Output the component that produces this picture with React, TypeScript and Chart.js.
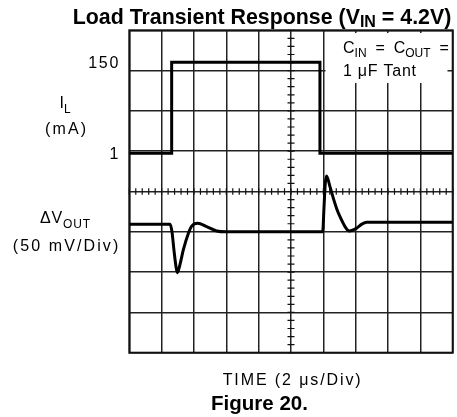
import { useEffect, useRef } from "react";
import { Chart, registerables } from "chart.js";

Chart.register(...registerables);

// ---- data ----
// time axis in microseconds (2 us / div, 10 divisions)
const currentTimeUs = [0, 2.62, 2.62, 11.79, 11.79, 20];
const currentMa = [1, 1, 150, 150, 1, 1];
const currentTickValues = [150, 1];

const voltageTimeUs = [
  0, 2.52, 2.64, 2.76, 2.89, 2.97, 3.14, 3.34, 3.65, 3.86, 4.23, 4.78, 5.4, 6.0,
  11.96, 12.04, 12.12, 12.2, 12.41, 12.62, 12.82, 13.03, 13.34, 13.6, 14.06, 14.38, 14.68, 20,
];
const voltageMv = [
  9.5, 9.5, 0, -22.5, -43.5, -50.75, -40, -22.5, -2, 7, 10.5, 6.5, 1, 0,
  0, 30, 60, 69.25, 56, 41.5, 29, 18.75, 6.5, 1, 4.5, 9.5, 11.75, 12,
];

const titleText = "Load Transient Response (V";
const figureText = "Figure 20.";
const xAxisText = "TIME (2 \u03bcs/Div)";

type Part = { t: string; sub?: boolean };
type RichOpts = {
  family: string;
  size: number;
  subSize: number;
  subDrop: number;
  weight?: string;
  align: "left" | "center" | "right";
  width?: number;
  fitSize?: boolean;
};

function richText(ctx: CanvasRenderingContext2D, parts: Part[], x: number, y: number, o: RichOpts) {
  const weight = o.weight || "normal";
  let size = o.size;
  let subSize = o.subSize;
  const fontOf = (p: Part) => `${weight} ${p.sub ? subSize : size}px ${o.family}`;
  (ctx as any).letterSpacing = "0px";
  const measure = () => {
    let natural = 0;
    let n = 0;
    const ws = parts.map((p) => {
      ctx.font = fontOf(p);
      const w = ctx.measureText(p.t).width;
      natural += w;
      n += [...p.t].length;
      return w;
    });
    return { natural, n, ws };
  };
  let m = measure();
  if (o.fitSize && o.width) {
    const k = o.width / m.natural;
    size *= k;
    subSize *= k;
    m = measure();
  }
  const { natural, n, ws } = m;
  const s = o.width && !o.fitSize ? Math.max(0, (o.width - natural) / Math.max(1, n - 1)) : 0;
  const visual = natural + s * (n - 1);
  let cx = o.align === "left" ? x : o.align === "center" ? x - visual / 2 : x - visual;
  ctx.textAlign = "left";
  ctx.textBaseline = "alphabetic";
  (ctx as any).letterSpacing = s + "px";
  parts.forEach((p, i) => {
    ctx.font = fontOf(p);
    ctx.fillText(p.t, cx, y + (p.sub ? o.subDrop : 0));
    cx += ws[i] + s * [...p.t].length;
  });
  (ctx as any).letterSpacing = "0px";
}

const TECH = "'Liberation Sans Narrow', 'Liberation Sans', Arial, sans-serif";
const BOLD = "'Liberation Sans', Arial, sans-serif";
const INK = "#111";

const overlay = {
  id: "overlay",
  beforeDatasetsDraw(chart: any) {
    const { ctx, chartArea: a, scales } = chart;
    const xs = scales.x;
    const ys = scales.y;
    const yi = scales.yI;
    ctx.save();
    ctx.strokeStyle = INK;
    ctx.lineWidth = 1.2;
    const cx = xs.getPixelForValue(10);
    const cy = ys.getPixelForValue(4);
    ctx.beginPath();
    for (let k = 0; k <= 40; k++) {
      const py = ys.getPixelForValue(k * 0.2);
      ctx.moveTo(cx - 3.5, py);
      ctx.lineTo(cx + 3.5, py);
    }
    for (let k = 0; k <= 50; k++) {
      const px = xs.getPixelForValue(k * 0.4);
      ctx.moveTo(px, cy - 3.2);
      ctx.lineTo(px, cy + 3.2);
    }
    ctx.stroke();

    // note box
    ctx.fillStyle = "#fff";
    ctx.fillRect(325.5, 33, 122, 50);

    // frame
    ctx.lineWidth = 2;
    ctx.strokeRect(a.left, a.top, a.right - a.left, a.bottom - a.top);

    ctx.fillStyle = "#000";
    const tech = { family: TECH, size: 16, subSize: 12, subDrop: 4 };

    // title
    richText(
      ctx,
      [{ t: titleText }, { t: "IN", sub: true }, { t: " = 4.2V)" }],
      262,
      23.5,
      { family: BOLD, size: 20, subSize: 15, subDrop: 3, weight: "bold", align: "center", width: 379, fitSize: true }
    );
    // figure caption
    richText(ctx, [{ t: figureText }], 259.5, 410, {
      family: BOLD, size: 20, subSize: 15, subDrop: 3, weight: "bold", align: "center", width: 97, fitSize: true,
    });
    // x axis label
    richText(ctx, [{ t: xAxisText }], 291.7, 385, { ...tech, align: "center", width: 138 });

    // left labels
    richText(ctx, [{ t: "I" }, { t: "L", sub: true }], 65, 107.5, { ...tech, subDrop: 5, align: "center", width: 10 });
    richText(ctx, [{ t: "(mA)" }], 65.5, 134, { ...tech, align: "center", width: 41 });
    richText(ctx, [{ t: "\u0394V" }, { t: "OUT", sub: true }], 65, 223.3, { ...tech, subDrop: 5, align: "center", width: 50 });
    richText(ctx, [{ t: "(50 mV/Div)" }], 65.5, 251, { ...tech, align: "center", width: 105.6 });

    // current tick labels via current scale
    currentTickValues.forEach((v) => {
      const py = yi.getPixelForValue(v);
      const label = String(v);
      richText(ctx, [{ t: label }], 118.3, py + 5.8, {
        ...tech,
        align: "right",
        width: label.length > 1 ? 30 : undefined,
      });
    });

    // note text
    richText(
      ctx,
      [{ t: "C" }, { t: "IN", sub: true }, { t: "  =  C" }, { t: "OUT", sub: true }, { t: "  =" }],
      343,
      52.5,
      { ...tech, align: "left", width: 100 }
    );
    richText(ctx, [{ t: "1 \u03bcF Tant" }], 343, 76, { ...tech, align: "left", width: 73 });

    ctx.restore();
  },
};

export default function App() {
  const ref = useRef<HTMLCanvasElement>(null);
  useEffect(() => {
    const grid = { color: "#222", lineWidth: 1.5, drawTicks: false };
    const chart = new Chart(ref.current as HTMLCanvasElement, {
      type: "line",
      data: {
        datasets: [
          {
            label: "IL",
            data: currentTimeUs.map((t, i) => ({ x: t, y: currentMa[i] })),
            yAxisID: "yI",
            borderColor: "#000",
            borderWidth: 3,
            pointRadius: 0,
            tension: 0,
            borderJoinStyle: "miter",
          },
          {
            label: "dVout",
            data: voltageTimeUs.map((t, i) => ({ x: t, y: voltageMv[i] })),
            yAxisID: "yV",
            borderColor: "#000",
            borderWidth: 3,
            pointRadius: 0,
            cubicInterpolationMode: "monotone",
          },
        ],
      },
      options: {
        animation: false,
        responsive: false,
        events: [],
        layout: { padding: { left: 129.3, top: 30.3, right: 4.3, bottom: 64.3 } },
        plugins: { legend: { display: false }, tooltip: { enabled: false }, title: { display: false } },
        scales: {
          x: {
            type: "linear",
            min: 0,
            max: 20,
            ticks: { stepSize: 2, display: false },
            grid,
            border: { display: false },
            afterFit: (s: any) => {
              s.height = 0;
            },
          },
          y: {
            type: "linear",
            min: 0,
            max: 8,
            ticks: { stepSize: 1, display: false },
            grid,
            border: { display: false },
            afterFit: (s: any) => {
              s.width = 0;
            },
          },
          yI: { type: "linear", display: false, min: -325.5, max: 202.4 },
          yV: { type: "linear", display: false, min: -150, max: 250 },
        },
      } as any,
      plugins: [overlay],
    });
    return () => chart.destroy();
  }, []);
  return (
    <div style={{ position: "absolute", left: 0, top: 0, width: 457, height: 417, background: "#fff" }}>
      <canvas ref={ref} width={457} height={417} style={{ display: "block", width: 457, height: 417 }} />
    </div>
  );
}
